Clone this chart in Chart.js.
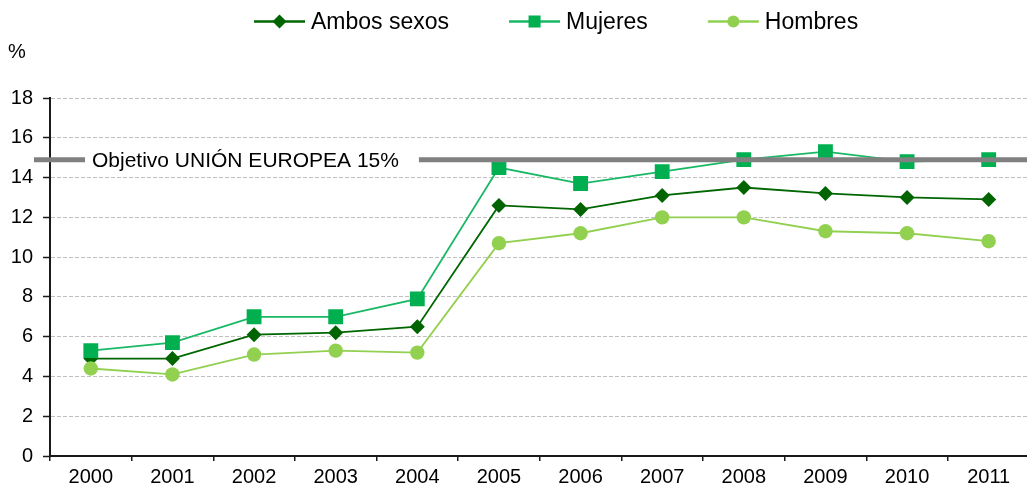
<!DOCTYPE html>
<html>
<head>
<meta charset="utf-8">
<script src="https://cdn.jsdelivr.net/npm/chart.js@4.4.1/dist/chart.umd.min.js"></script>
<style>
    html, body { margin: 0; padding: 0; background: #fff; overflow: hidden; }
    #wrap { width: 1040px; height: 491px; }
</style>
</head>
<body>
<div id="wrap"><canvas id="chart" width="1040" height="491"></canvas></div>
<script>
// ================== DATA ==================
const years      = ['2000', '2001', '2002', '2003', '2004', '2005', '2006', '2007', '2008', '2009', '2010', '2011'];
const ambosSexos = [4.9, 4.9, 6.1, 6.2, 6.5, 12.6, 12.4, 13.1, 13.5, 13.2, 13.0, 12.9];
const mujeres    = [5.3, 5.7, 7.0, 7.0, 7.9, 14.5, 13.7, 14.3, 14.9, 15.3, 14.8, 14.9];
const hombres    = [4.4, 4.1, 5.1, 5.3, 5.2, 10.7, 11.2, 12.0, 12.0, 11.3, 11.2, 10.8];
const yTicks     = [0, 2, 4, 6, 8, 10, 12, 14, 16, 18];

const objetivoValue = 15;
const objetivoLabel = 'Objetivo UNIÓN EUROPEA 15%';
const unitLabel     = '%';

const FONT = '"Liberation Sans", Arial, sans-serif';

// ================== HELPERS ==================
function drawMarker(ctx, style, x, y, r, color) {
    ctx.fillStyle = color;
    ctx.beginPath();
    if (style === 'rectRot') {
        ctx.moveTo(x - r, y);
        ctx.lineTo(x, y - r);
        ctx.lineTo(x + r, y);
        ctx.lineTo(x, y + r);
        ctx.closePath();
    } else if (style === 'rect') {
        let s = r * Math.SQRT1_2;
        ctx.rect(x - s, y - s, s * 2, s * 2);
    } else {
        ctx.arc(x, y, r, 0, Math.PI * 2);
    }
    ctx.fill();
}

// ---- objective line (drawn over the series) ----
const objetivoPlugin = {
    id: 'objetivo',
    afterDatasetsDraw(chart) {
        const ctx   = chart.ctx;
        const y     = chart.scales.y.getPixelForValue(objetivoValue) + 2;
        const textX = 92;

        ctx.save();
        ctx.font = '21px ' + FONT;
        const tw = ctx.measureText(objetivoLabel).width;

        ctx.strokeStyle = '#808080';
        ctx.lineWidth   = 5;
        ctx.beginPath();
        ctx.moveTo(34, y);
        ctx.lineTo(textX - 7, y);
        ctx.moveTo(textX + tw + 20, y);
        ctx.lineTo(chart.width, y);
        ctx.stroke();

        ctx.fillStyle    = '#000';
        ctx.textBaseline = 'middle';
        ctx.textAlign    = 'left';
        ctx.fillText(objetivoLabel, textX, y + 2);
        ctx.restore();
    }
};

// ---- legend + unit label ----
const legendPlugin = {
    id: 'customLegend',
    afterDraw(chart) {
        const ctx = chart.ctx;
        ctx.save();
        ctx.font         = '23px ' + FONT;
        ctx.textBaseline = 'middle';
        ctx.textAlign    = 'left';

        const legendY = 21.5;
        const lineLen = 51;
        const markerR = { rectRot: 7, rect: 8.5, circle: 6 };
        let x = 254;

        chart.data.datasets.forEach(ds => {
            ctx.strokeStyle = ds.borderColor;
            ctx.lineWidth   = 2.5;
            ctx.beginPath();
            ctx.moveTo(x, legendY);
            ctx.lineTo(x + lineLen, legendY);
            ctx.stroke();
            drawMarker(ctx, ds.pointStyle, x + lineLen / 2, legendY, markerR[ds.pointStyle], ds.pointBackgroundColor);

            ctx.fillStyle = '#000';
            const tx = x + lineLen + 6;
            ctx.fillText(ds.label, tx, legendY + 1);
            x = tx + ctx.measureText(ds.label).width + 60;
        });

        ctx.font = '20px ' + FONT;
        ctx.fillText(unitLabel, 8, 52);
        ctx.restore();
    }
};

// ================== CHART ==================
const ctx = document.getElementById('chart');

new Chart(ctx, {
    type: 'line',
    data: {
        labels: years,
        datasets: [
            {
                label: 'Ambos sexos',
                data: ambosSexos,
                borderColor: '#006600',
                borderWidth: 1.8,
                pointStyle: 'rectRot',
                pointRadius: 7.5,
                pointBackgroundColor: '#006400',
                pointBorderWidth: 0,
                order: 2
            },
            {
                label: 'Mujeres',
                data: mujeres,
                borderColor: '#19b865',
                borderWidth: 1.8,
                pointStyle: 'rect',
                pointRadius: 10.5,
                pointBackgroundColor: '#00b050',
                pointBorderWidth: 0,
                order: 1
            },
            {
                label: 'Hombres',
                data: hombres,
                borderColor: '#92d050',
                borderWidth: 1.8,
                pointStyle: 'circle',
                pointRadius: 7.2,
                pointBackgroundColor: '#92d050',
                pointBorderWidth: 0,
                order: 0
            }
        ]
    },
    options: {
        responsive: false,
        animation: false,
        layout: { padding: { top: 98, left: 0, right: 6, bottom: 0 } },
        plugins: {
            legend: { display: false },
            tooltip: { enabled: false }
        },
        scales: {
            x: {
                offset: true,
                border: { display: true, color: '#1a1a1a', width: 2 },
                grid: {
                    offset: true,
                    drawOnChartArea: false,
                    tickLength: 5,
                    tickColor: '#1a1a1a',
                    lineWidth: 1.5
                },
                ticks: {
                    color: '#000',
                    padding: 4,
                    maxRotation: 0,
                    font: { family: FONT, size: 20 }
                },
                afterFit(scale) { scale.height = 35; }
            },
            y: {
                min: 0,
                max: 18,
                afterBuildTicks(scale) { scale.ticks = yTicks.map(v => ({ value: v })); },
                border: { display: true, color: '#1a1a1a', width: 2, dash: [4, 2] },
                grid: {
                    color: '#bfbfbf',
                    lineWidth: 1,
                    tickLength: 7,
                    tickColor: '#1a1a1a',
                    tickBorderDash: [],
                    tickWidth: 1.5
                },
                ticks: {
                    color: '#000',
                    padding: 10,
                    font: { family: FONT, size: 20 }
                },
                afterFit(scale) { scale.width = 50; }
            }
        }
    },
    plugins: [objetivoPlugin, legendPlugin]
});
</script>
</body>
</html>
